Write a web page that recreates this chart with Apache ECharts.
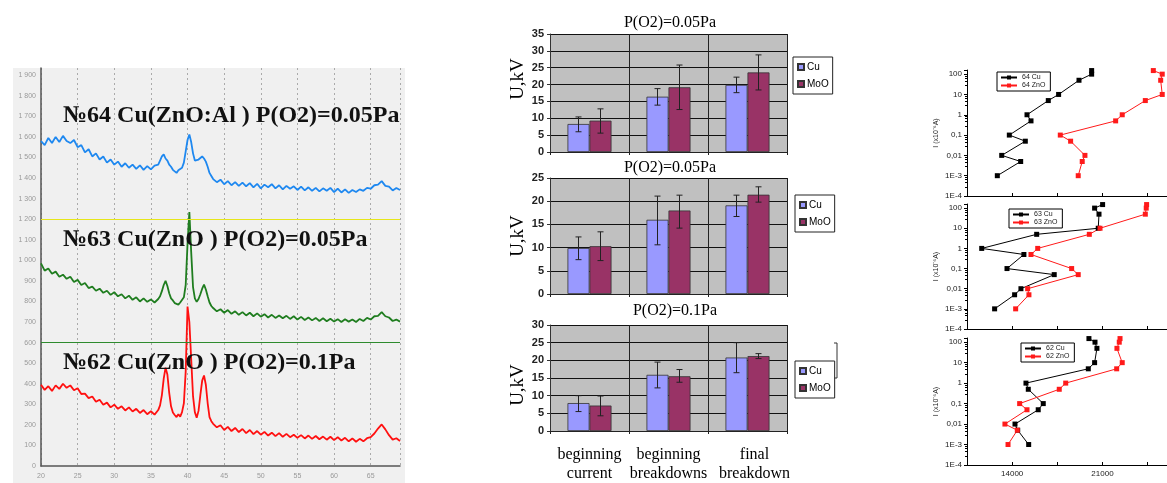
<!DOCTYPE html>
<html>
<head>
<meta charset="utf-8">
<script src="https://cdn.jsdelivr.net/npm/echarts@6/dist/echarts.min.js"></script>
<style>
  html, body { margin: 0; padding: 0; background: #fff; }
  #chart { width: 1167px; height: 483px; }
</style>
</head>
<body>
<div id="chart"></div>
<script>
// ---- XRD spectra (left panel) ----
const xrdTwoTheta = [
  20, 20.5, 21, 21.5, 22, 22.5, 23, 23.5, 24, 24.5, 25, 25.5, 26, 26.5, 27, 27.5,
  28, 28.5, 29, 29.5, 30, 30.5, 31, 31.5, 32, 32.5, 33, 33.5, 34, 34.5, 35, 35.5,
  36, 36.25, 36.5, 36.75, 37, 37.25, 37.5, 37.75, 38, 38.25, 38.5, 38.75, 39, 39.25, 39.5, 39.75,
  40, 40.25, 40.5, 40.75, 41, 41.25, 41.5, 41.75, 42, 42.25, 42.5, 42.75, 43, 43.25,
  43.5, 44, 44.5, 45, 45.5, 46, 46.5, 47, 47.5, 48, 48.5, 49, 49.5, 50, 50.5, 51, 51.5,
  52, 52.5, 53, 53.5, 54, 54.5, 55, 55.5, 56, 56.5, 57, 57.5, 58, 58.5, 59, 59.5, 60,
  60.5, 61, 61.5, 62, 62.5, 63, 63.5, 64, 64.5, 65, 65.5, 66, 66.5, 67, 67.5, 68, 68.5, 69
];
const xrd64 = [
  1580, 1560, 1595, 1570, 1600, 1575, 1605, 1580, 1570, 1585, 1550, 1560, 1525, 1540, 1505, 1520,
  1490, 1505, 1475, 1490, 1465, 1480, 1455, 1472, 1450, 1465, 1445, 1462, 1440, 1458, 1442, 1460,
  1465, 1485, 1505, 1515, 1495, 1485, 1465, 1455, 1440, 1448, 1425, 1438, 1430, 1450, 1475, 1530,
  1585, 1612, 1575, 1520, 1485, 1478, 1490, 1485, 1505, 1495, 1480, 1455, 1425, 1410,
  1395, 1380, 1392, 1370, 1385, 1365, 1380, 1362, 1378, 1360, 1375, 1355, 1372, 1350, 1368, 1355, 1370,
  1350, 1365, 1345, 1362, 1348, 1360, 1342, 1358, 1340, 1355, 1338, 1352, 1335, 1350, 1338, 1352, 1332,
  1348, 1330, 1345, 1328, 1342, 1332, 1345, 1338, 1352, 1348, 1365, 1368, 1385, 1362, 1358, 1340, 1352, 1342
];
const xrd63 = [
  985, 950, 960, 935, 945, 920, 930, 910, 920, 895, 905, 880, 890, 865, 872, 852,
  862, 842, 852, 832, 845, 825, 835, 815, 828, 808, 820, 800, 815, 798, 810, 795,
  812, 825, 850, 880, 900, 875, 840, 815, 805, 792, 800, 785, 795, 800, 820, 880,
  1080, 1235, 1040, 870, 815, 798, 812, 835, 862, 882, 858, 825, 795, 778,
  768, 752, 762, 745, 758, 740, 752, 735, 748, 732, 745, 728, 742, 726, 738, 722, 735,
  720, 732, 718, 730, 715, 728, 712, 725, 710, 722, 708, 720, 705, 718, 704, 716, 702,
  714, 700, 713, 702, 712, 700, 715, 705, 720, 712, 728, 730, 748, 728, 722, 705, 712, 702
];
const xrd62 = [
  395, 370, 388, 365, 392, 375, 400, 380, 392, 368, 378, 350, 352, 330, 338, 312,
  322, 298, 308, 285, 298, 278, 290, 270, 285, 265, 278, 258, 272, 252, 266, 250,
  272, 295, 345, 425, 478, 445, 355, 290, 260, 248, 238, 252, 240, 262, 305, 460,
  775, 700, 520, 340, 262, 235, 268, 345, 415, 440, 395, 305, 238, 218,
  205, 188, 198, 175, 190, 170, 185, 165, 180, 160, 175, 155, 170, 152, 166, 148, 162,
  145, 160, 142, 156, 140, 152, 137, 150, 134, 148, 132, 146, 130, 143, 128, 142, 126,
  140, 124, 137, 120, 134, 118, 132, 120, 135, 140, 158, 182, 202, 178, 150, 128, 135, 122
];
const xrdLabels = ['№64 Cu(ZnO:Al ) P(O2)=0.05Pa', '№63 Cu(ZnO ) P(O2)=0.05Pa', '№62 Cu(ZnO ) P(O2)=0.1Pa'];
const xrdRefLines = [1200, 600];

// ---- breakdown voltage bars (middle panel) ----
const barCategories = ['beginning\ncurrent', 'beginning\nbreakdowns', 'final\nbreakdown'];
const barTitles = ['P(O2)=0.05Pa', 'P(O2)=0.05Pa', 'P(O2)=0.1Pa'];
const barMax = [35, 25, 30];
const cuU = [[8.3, 16.4, 19.9], [9.9, 16.0, 19.1], [7.9, 15.9, 20.8]];
const mooU = [[9.3, 19.2, 23.6], [10.3, 18.0, 21.4], [7.2, 15.5, 21.2]];
const cuErr = [
  [[6.0, 10.4], [13.9, 18.8], [17.6, 22.2]],
  [[7.4, 12.3], [10.6, 21.1], [16.7, 21.3]],
  [[5.5, 10.0], [12.2, 19.5], [16.5, 25.0]]
];
const mooErr = [
  [[5.6, 12.8], [12.6, 25.8], [18.4, 28.8]],
  [[7.2, 13.4], [14.2, 21.3], [19.8, 23.1]],
  [[4.3, 9.9], [13.8, 17.4], [20.5, 21.9]]
];

// ---- I-U curves (right panel) ----
const ivCurrent = [0.001, 0.005, 0.01, 0.05, 0.1, 0.5, 1, 5, 10, 50, 100, 150];
const ivNames = [['64 Cu', '64 ZnO'], ['63 Cu', '63 ZnO'], ['62 Cu', '62 ZnO']];
const u64Cu = [12850, 14660, 13190, 15020, 13780, 15460, 15150, 16800, 17600, 19180, 20160, 20160];
const u64ZnO = [19120, 19430, 19640, 18530, 17730, 22020, 22530, 24320, 25630, 25510, 25630, 24940];
const u63Cu = [12640, 14190, 14680, 17260, 13600, 14910, 11640, 15900, 20670, 20730, 20390, 21010];
const u63ZnO = [14270, 15300, 15200, 19120, 18610, 15460, 15980, 19980, 20810, 24320, 24390, 24420];
const u62Cu = [15280, 14430, 14220, 16020, 16410, 15250, 15070, 19900, 20390, 20570, 20420, 19950];
const u62ZnO = [13680, 14400, 13440, 15150, 14580, 17650, 18150, 22100, 22530, 22120, 22300, 22360];
const ivLogLabels = ['1E-4', '1E-3', '0,01', '0,1', '1', '10', '100'];

const chart = echarts.init(document.getElementById('chart'));

const grids = [
  { left: 41, top: 68, right: 767, bottom: 17 },
  { left: 550, top: 34, right: 380, bottom: 331, show: true, backgroundColor: '#c0c0c0', borderWidth: 0 },
  { left: 550, top: 178, right: 380, bottom: 189, show: true, backgroundColor: '#c0c0c0', borderWidth: 0 },
  { left: 550, top: 325, right: 380, bottom: 52, show: true, backgroundColor: '#c0c0c0', borderWidth: 0 },
  { left: 967, top: 70, right: 0, bottom: 287 },
  { left: 967, top: 204, right: 0, bottom: 154 },
  { left: 967, top: 338, right: 0, bottom: 18 }
].map(g => Object.assign({ outerBoundsMode: 'none', containLabel: false }, g));

const xAxes = [], yAxes = [], series = [], legends = [], titles = [];

// XRD
xAxes.push({
  gridIndex: 0, type: 'value', min: 20, max: 69, interval: 5,
  axisLine: { lineStyle: { color: '#555', width: 1.5 } },
  axisTick: { show: false },
  axisLabel: { fontSize: 7, color: '#999', margin: 7, showMaxLabel: false },
  splitLine: { show: true, lineStyle: { color: '#aaa', type: [2, 3] } }
});
yAxes.push({
  gridIndex: 0, type: 'value', min: 0, max: 1935, interval: 100,
  axisLine: { show: true, lineStyle: { color: '#555', width: 1.5 } },
  axisTick: { show: false },
  axisLabel: {
    fontSize: 7, color: '#999', margin: 5, showMaxLabel: false,
    formatter: v => v >= 1000 ? Math.floor(v / 1000) + ' ' + String(v % 1000).padStart(3, '0') : String(v)
  },
  splitLine: { show: false }
});
[[xrd64, '#1e88f0'], [xrd63, '#1f7d1f'], [xrd62, '#ff1010']].forEach(([vals, color], k) => {
  const s = {
    type: 'line', xAxisIndex: 0, yAxisIndex: 0, showSymbol: false,
    data: xrdTwoTheta.map((t, i) => [t, vals[i]]),
    lineStyle: { color, width: 1.8 }, itemStyle: { color }
  };
  if (k === 0) {
    s.markLine = {
      silent: true, symbol: 'none', label: { show: false },
      data: [
        { yAxis: xrdRefLines[0], lineStyle: { color: '#e6e61a', width: 1, type: 'solid' } },
        { yAxis: xrdRefLines[1], lineStyle: { color: '#2e8b2e', width: 1, type: 'solid' } }
      ]
    };
  }
  series.push(s);
});

// Bars
const titleTops = [10, 155, 298];
const legendPos = [[793, 57], [795, 195], [795, 361]];
for (let c = 0; c < 3; c++) {
  const g = c + 1;
  xAxes.push({
    gridIndex: g, type: 'category',
    data: barCategories.map((name, i) => i === 2
      ? { value: name, textStyle: { padding: [0, 0, 0, 14] } }
      : name),
    axisLine: { lineStyle: { color: '#222' } },
    axisTick: { show: true, length: 3, lineStyle: { color: '#222' } },
    splitLine: { show: true, interval: 0, lineStyle: { color: '#222', width: 1 } },
    axisLabel: {
      show: c === 2, interval: 0, fontFamily: 'Liberation Serif', fontSize: 16,
      color: '#000', lineHeight: 19, margin: 14
    }
  });
  yAxes.push({
    gridIndex: g, type: 'value', min: 0, max: barMax[c], interval: 5,
    axisLine: { show: true, lineStyle: { color: '#333' } },
    axisTick: { show: true, length: 3, lineStyle: { color: '#333' } },
    axisLabel: { fontSize: 11, color: '#222', fontFamily: 'Arial', fontWeight: 'bold', margin: 6 },
    splitLine: { lineStyle: { color: '#111', width: 1 } }
  });
  titles.push({
    text: barTitles[c], left: 665 + (c === 2 ? 5 : 0), top: titleTops[c], textAlign: 'center',
    textStyle: { fontFamily: 'Liberation Serif', fontSize: 16, fontWeight: 'normal', color: '#000' }
  });
  [['Cu', cuU[c], cuErr[c], '#9999ff', -11], ['MoO', mooU[c], mooErr[c], '#993366', 11]].forEach(([name, vals, errs, color, off]) => {
    series.push({
      name, type: 'bar', xAxisIndex: g, yAxisIndex: g, data: vals,
      barWidth: 22, barGap: '0%',
      itemStyle: { color, borderColor: '#333', borderWidth: 0.8 }
    });
    series.push({
      type: 'custom', xAxisIndex: g, yAxisIndex: g, z: 5, silent: true,
      data: errs.map((e, i) => [i, e[0], e[1]]),
      encode: { x: 0, y: [1, 2] },
      renderItem: (params, api) => {
        const lo = api.coord([api.value(0), api.value(1)]);
        const hi = api.coord([api.value(0), api.value(2)]);
        const x = lo[0] + off;
        const st = { stroke: '#222', lineWidth: 1 };
        return {
          type: 'group', children: [
            { type: 'line', shape: { x1: x, y1: lo[1], x2: x, y2: hi[1] }, style: st },
            { type: 'line', shape: { x1: x - 3, y1: lo[1], x2: x + 3, y2: lo[1] }, style: st },
            { type: 'line', shape: { x1: x - 3, y1: hi[1], x2: x + 3, y2: hi[1] }, style: st }
          ]
        };
      }
    });
  });
  legends.push({
    data: ['Cu', 'MoO'], left: legendPos[c][0], top: legendPos[c][1], orient: 'vertical',
    backgroundColor: '#fff', borderColor: '#222', borderWidth: 1, borderRadius: 0,
    padding: [5, 4, 5, 4], itemGap: 7, itemWidth: 6, itemHeight: 6, icon: 'rect',
    textStyle: { fontSize: 10, fontFamily: 'Arial', color: '#000', padding: [0, 0, 0, -2] }
  });
}

// I-U
const ivSets = [[u64Cu, u64ZnO], [u63Cu, u63ZnO], [u62Cu, u62ZnO]];
const ivLegendPos = [[997, 72], [1009, 209], [1021, 343]];
for (let p = 0; p < 3; p++) {
  const g = p + 4;
  xAxes.push({
    gridIndex: g, type: 'value', min: 10500, max: 26000, interval: 3500,
    axisLine: { lineStyle: { color: '#000' } },
    axisTick: { inside: true, length: 3, lineStyle: { color: '#000' } },
    splitLine: { show: false },
    axisLabel: {
      show: p === 2, fontSize: 8, color: '#222', margin: 5,
      formatter: v => (v === 14000 || v === 21000) ? String(v) : ''
    },
    name: p === 2 ? 'U (kV)' : '', nameLocation: 'middle', nameGap: 19,
    nameTextStyle: { fontSize: 8, color: '#222' }
  });
  yAxes.push({
    gridIndex: g, type: 'log', logBase: 10, min: 0.0001, max: 160,
    axisLine: { show: true, lineStyle: { color: '#000' } },
    axisTick: { length: 3, lineStyle: { color: '#000' } },
    minorTick: { show: true, splitNumber: 5, length: 2, lineStyle: { color: '#000' } },
    splitLine: { show: false },
    axisLabel: {
      fontSize: 8, color: '#222', margin: 5,
      formatter: v => {
        const l = Math.log10(v), e = Math.round(l);
        return Math.abs(l - e) < 0.01 && e >= -4 && e <= 2 ? ivLogLabels[e + 4] : '';
      }
    },
    name: 'I (x10⁻⁶A)', nameLocation: 'middle', nameGap: 27,
    nameTextStyle: { fontSize: 7, color: '#222' }
  });
  ivSets[p].forEach((us, k) => {
    const color = k === 0 ? '#000' : '#ff1a1a';
    series.push({
      name: ivNames[p][k], type: 'line', xAxisIndex: g, yAxisIndex: g, clip: false,
      data: us.map((u, i) => [u, ivCurrent[i]]),
      symbol: 'rect', symbolSize: 5, showSymbol: true,
      lineStyle: { color, width: 1 }, itemStyle: { color }
    });
  });
  legends.push({
    data: ivNames[p], left: ivLegendPos[p][0], top: ivLegendPos[p][1], orient: 'vertical',
    backgroundColor: '#fff', borderColor: '#000', borderWidth: 1, borderRadius: 0,
    padding: [2, 5, 2, 3], itemGap: 1, itemWidth: 16, itemHeight: 5,
    textStyle: { fontSize: 7, fontFamily: 'Arial', color: '#222' }
  });
}

const xrdFont = 'bold 24px "Liberation Serif"';
const graphic = [
  { type: 'rect', z: -10, shape: { x: 13, y: 68, width: 392, height: 415 }, style: { fill: '#f0f0f0' } },
  { type: 'text', z: 100, x: 63, y: 116, style: { text: xrdLabels[0], font: xrdFont, fill: '#111', textVerticalAlign: 'middle' } },
  { type: 'text', z: 100, x: 63, y: 240, style: { text: xrdLabels[1], font: xrdFont, fill: '#111', textVerticalAlign: 'middle' } },
  { type: 'text', z: 100, x: 63, y: 363, style: { text: xrdLabels[2], font: xrdFont, fill: '#111', textVerticalAlign: 'middle' } },
  { type: 'text', x: 518, y: 79, rotation: Math.PI / 2, style: { text: 'U,kV', font: '19px "Liberation Serif"', fill: '#000', textAlign: 'center', textVerticalAlign: 'middle' } },
  { type: 'text', x: 518, y: 236, rotation: Math.PI / 2, style: { text: 'U,kV', font: '19px "Liberation Serif"', fill: '#000', textAlign: 'center', textVerticalAlign: 'middle' } },
  { type: 'text', x: 518, y: 385, rotation: Math.PI / 2, style: { text: 'U,kV', font: '19px "Liberation Serif"', fill: '#000', textAlign: 'center', textVerticalAlign: 'middle' } },
  { type: 'polyline', shape: { points: [[834, 343], [837, 343], [837, 378], [834, 378]] }, style: { stroke: '#333', lineWidth: 1, fill: null } }
];

chart.setOption({
  animation: false,
  backgroundColor: '#fff',
  title: titles,
  grid: grids,
  xAxis: xAxes,
  yAxis: yAxes,
  legend: legends,
  graphic,
  series
});

window.addEventListener('resize', () => chart.resize());
</script>
</body>
</html>
